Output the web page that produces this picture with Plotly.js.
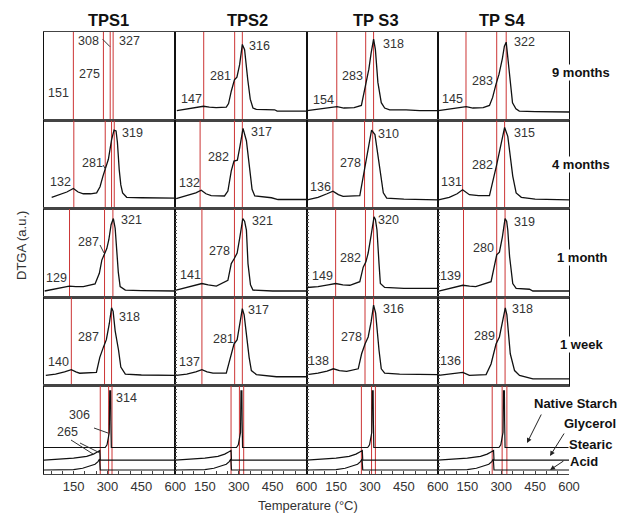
<!DOCTYPE html>
<html><head><meta charset="utf-8">
<script src="https://cdn.plot.ly/plotly-3.0.1.min.js"></script>
<style>html,body{margin:0;padding:0;background:#fff}</style>
</head><body><div id="chart" style="width:621px;height:515px"></div>
<script>
// ---------------- DATA ----------------
const columnTitles = ['TPS1', 'TPS2', 'TP S3', 'TP S4'];
const ageLabels = ['9 months', '4 months', '1 month', '1 week'];
const refNames = ['Native Starch', 'Glycerol', 'Stearic', 'Acid'];
const xTickVals = [50, 100, 150, 200, 250, 300, 350, 400, 450, 500, 550, 600];
const xTickText = ['', '', '150', '', '', '300', '', '', '450', '', '', '600'];

// 9 months (TPS1 curve absent in the reference)
const temp_9m_TPS2 = [26, 80, 120, 144, 170, 200, 245, 255, 267, 281, 292, 304, 316, 326, 340, 351, 363, 378, 459, 470, 600];
const dtga_9m_TPS2 = [0.11, 0.13, 0.145, 0.16, 0.15, 0.145, 0.15, 0.19, 0.33, 0.46, 0.49, 0.63, 0.86, 0.80, 0.46, 0.24, 0.14, 0.125, 0.12, 0.105, 0.105];
const temp_9m_TPS3 = [22, 70, 120, 154, 185, 230, 262, 272, 283, 295, 305, 316, 324, 335, 350, 365, 387, 460, 520, 600];
const dtga_9m_TPS3 = [0.11, 0.125, 0.14, 0.155, 0.14, 0.145, 0.17, 0.30, 0.43, 0.58, 0.76, 0.92, 0.80, 0.43, 0.20, 0.14, 0.12, 0.12, 0.11, 0.11];
const temp_9m_TPS4 = [22, 70, 115, 145, 175, 220, 248, 262, 277, 290, 305, 314, 322, 333, 350, 365, 380, 450, 520, 600];
const dtga_9m_TPS4 = [0.11, 0.125, 0.14, 0.155, 0.14, 0.145, 0.17, 0.26, 0.41, 0.52, 0.70, 0.84, 0.885, 0.61, 0.20, 0.13, 0.105, 0.10, 0.095, 0.095];

// 4 months
const temp_4m_TPS1 = [53, 90, 120, 149, 170, 193, 225, 252, 267, 280, 289, 293, 304, 318, 329, 338, 344, 352, 359, 367, 385, 450, 518, 600];
const dtga_4m_TPS1 = [0.13, 0.16, 0.19, 0.23, 0.19, 0.17, 0.17, 0.18, 0.25, 0.37, 0.44, 0.46, 0.56, 0.78, 0.89, 0.88, 0.75, 0.44, 0.27, 0.18, 0.13, 0.125, 0.12, 0.12];
const temp_4m_TPS2 = [23, 70, 110, 134, 155, 178, 237, 252, 267, 279, 294, 305, 319, 334, 349, 359, 371, 445, 474, 600];
const dtga_4m_TPS2 = [0.115, 0.15, 0.18, 0.21, 0.17, 0.15, 0.145, 0.20, 0.43, 0.54, 0.55, 0.70, 0.91, 0.77, 0.47, 0.22, 0.145, 0.125, 0.105, 0.105];
const temp_4m_TPS3 = [22, 70, 110, 136, 160, 181, 255, 270, 278, 292, 307, 322, 333, 344, 359, 374, 450, 600];
const dtga_4m_TPS3 = [0.10, 0.13, 0.17, 0.20, 0.16, 0.14, 0.15, 0.37, 0.48, 0.66, 0.89, 0.84, 0.66, 0.44, 0.18, 0.12, 0.11, 0.10];
const temp_4m_TPS4 = [22, 70, 105, 129, 159, 200, 248, 270, 280, 295, 315, 329, 340, 351, 366, 389, 450, 600];
const dtga_4m_TPS4 = [0.10, 0.13, 0.17, 0.215, 0.16, 0.15, 0.15, 0.37, 0.50, 0.68, 0.92, 0.82, 0.60, 0.37, 0.18, 0.13, 0.11, 0.10];

// 1 month
const temp_1m_TPS1 = [22, 60, 100, 131, 160, 193, 245, 264, 275, 287, 297, 306, 316, 326, 334, 341, 348, 356, 379, 450, 600];
const dtga_1m_TPS1 = [0.07, 0.09, 0.11, 0.125, 0.12, 0.12, 0.15, 0.27, 0.42, 0.50, 0.55, 0.65, 0.82, 0.89, 0.78, 0.53, 0.28, 0.12, 0.08, 0.075, 0.07];
const temp_1m_TPS2 = [23, 70, 110, 137, 165, 201, 252, 267, 281, 293, 305, 318, 326, 334, 341, 352, 363, 450, 600];
const dtga_1m_TPS2 = [0.08, 0.11, 0.14, 0.155, 0.14, 0.125, 0.19, 0.38, 0.44, 0.50, 0.68, 0.89, 0.86, 0.76, 0.38, 0.14, 0.08, 0.07, 0.07];
const temp_1m_TPS3 = [22, 70, 115, 148, 180, 211, 255, 270, 282, 292, 305, 318, 324, 331, 340, 346, 365, 450, 600];
const dtga_1m_TPS3 = [0.11, 0.12, 0.14, 0.155, 0.14, 0.135, 0.175, 0.34, 0.40, 0.50, 0.70, 0.91, 0.88, 0.76, 0.38, 0.155, 0.11, 0.10, 0.10];
const temp_1m_TPS4 = [23, 70, 105, 130, 160, 187, 255, 270, 280, 292, 305, 317, 324, 329, 337, 351, 366, 425, 440, 600];
const dtga_1m_TPS4 = [0.07, 0.10, 0.12, 0.135, 0.125, 0.12, 0.175, 0.38, 0.48, 0.51, 0.68, 0.89, 0.86, 0.76, 0.46, 0.155, 0.10, 0.09, 0.07, 0.07];

// 1 week
const temp_1w_TPS1 = [27, 70, 110, 140, 160, 177, 251, 266, 282, 295, 308, 318, 325, 334, 349, 359, 379, 450, 600];
const dtga_1w_TPS1 = [0.115, 0.13, 0.155, 0.18, 0.155, 0.14, 0.15, 0.32, 0.435, 0.52, 0.70, 0.88, 0.84, 0.62, 0.40, 0.21, 0.13, 0.12, 0.115];
const temp_1w_TPS2 = [23, 70, 110, 137, 160, 186, 245, 260, 279, 293, 305, 316, 324, 334, 346, 356, 378, 467, 600];
const dtga_1w_TPS2 = [0.115, 0.13, 0.155, 0.18, 0.155, 0.14, 0.14, 0.28, 0.47, 0.52, 0.68, 0.87, 0.80, 0.55, 0.32, 0.17, 0.125, 0.10, 0.10];
const temp_1w_TPS3 = [22, 70, 110, 138, 165, 197, 248, 263, 278, 292, 305, 316, 325, 335, 340, 350, 365, 431, 600];
const dtga_1w_TPS3 = [0.125, 0.14, 0.165, 0.19, 0.17, 0.16, 0.19, 0.36, 0.47, 0.55, 0.72, 0.91, 0.82, 0.51, 0.40, 0.19, 0.14, 0.13, 0.125];
const temp_1w_TPS4 = [22, 70, 105, 130, 159, 233, 255, 270, 277, 292, 306, 318, 325, 334, 340, 359, 381, 440, 600];
const dtga_1w_TPS4 = [0.115, 0.13, 0.14, 0.15, 0.115, 0.125, 0.245, 0.40, 0.47, 0.55, 0.72, 0.88, 0.80, 0.55, 0.36, 0.17, 0.115, 0.076, 0.076];

// reference components (offset traces, same in every column)
const temp_starch = [19, 250, 290, 298, 304, 308, 310, 314, 315, 317, 600];
const dtga_starch = [0.30, 0.30, 0.30, 0.33, 0.40, 0.47, 0.94, 0.94, 0.60, 0.30, 0.30];
const temp_glycerol = [19, 75, 150, 208, 238, 255, 262, 266, 268, 600];
const dtga_glycerol = [0.157, 0.168, 0.18, 0.20, 0.225, 0.25, 0.26, 0.265, 0.157, 0.157];
const temp_stearic = [19, 100, 150, 190, 220, 245, 258, 265, 268, 600];
const dtga_stearic = [0.045, 0.045, 0.05, 0.065, 0.085, 0.11, 0.14, 0.17, 0.045, 0.045];

// peak temperatures written in each panel
const peaks_9m = [[151, 275, 308, 327], [147, 281, 316], [154, 283, 318], [145, 283, 322]];
const peaks_4m = [[132, 281, 319], [132, 282, 317], [136, 278, 310], [131, 282, 315]];
const peaks_1m = [[129, 287, 321], [141, 278, 321], [149, 282, 320], [139, 280, 319]];
const peaks_1w = [[140, 287, 318], [137, 281, 317], [138, 278, 316], [136, 289, 318]];
const peaks_ref = [314, 306, 265];

// red marker lines (temperatures where they are drawn)
const lines_9m = [[149, 282, 312, 325], [145, 282, 316], [153, 281, 316], [144, 280, 322]];
const lines_4m = [[151, 290, 318, 330], [129, 281, 316], [136, 276, 312], [129, 280, 315]];
const lines_1m = [[132, 287, 324], [137, 281, 316], [148, 280, 316], [133, 280, 317]];
const lines_1w = [[140, 287, 318], [137, 282, 316], [138, 278, 316], [133, 280, 317]];
const lines_ref = [[268, 305, 320], [266, 303, 322], [262, 307, 324], [260, 304, 325]];

// ---------------- BUILD ----------------
const temps = [
  [null, temp_9m_TPS2, temp_9m_TPS3, temp_9m_TPS4],
  [temp_4m_TPS1, temp_4m_TPS2, temp_4m_TPS3, temp_4m_TPS4],
  [temp_1m_TPS1, temp_1m_TPS2, temp_1m_TPS3, temp_1m_TPS4],
  [temp_1w_TPS1, temp_1w_TPS2, temp_1w_TPS3, temp_1w_TPS4]];
const dtgas = [
  [null, dtga_9m_TPS2, dtga_9m_TPS3, dtga_9m_TPS4],
  [dtga_4m_TPS1, dtga_4m_TPS2, dtga_4m_TPS3, dtga_4m_TPS4],
  [dtga_1m_TPS1, dtga_1m_TPS2, dtga_1m_TPS3, dtga_1m_TPS4],
  [dtga_1w_TPS1, dtga_1w_TPS2, dtga_1w_TPS3, dtga_1w_TPS4]];
const peaks = [peaks_9m, peaks_4m, peaks_1m, peaks_1w];
const lines = [lines_9m, lines_4m, lines_1m, lines_1w, lines_ref];

const FONT = 'Liberation Sans, Arial, sans-serif';
const RED = '#cc3535';
const L = 44, T0 = 32, W = 525, H = 442;
const PX = x => (x - L) / W;
const PY = y => (T0 + H - y) / H;

const traces = [];
const layout = {
  width: 621, height: 515,
  margin: {l: L, r: 621 - L - W, t: T0, b: 515 - T0 - H, pad: 0},
  paper_bgcolor: '#fff', plot_bgcolor: '#fff',
  showlegend: false,
  font: {family: FONT, color: '#333'},
  annotations: [], shapes: []
};

function ax(k) { return k === 1 ? '' : String(k); }

for (let r = 0; r < 5; r++) {
  for (let c = 0; c < 4; c++) {
    const k = r * 4 + c + 1;
    const xa = 'x' + ax(k), ya = 'y' + ax(k);
    layout['xaxis' + ax(k)] = {
      domain: [c / 4, (c + 1) / 4], range: [19, 600], anchor: ya,
      showgrid: false, zeroline: false, showline: true, mirror: true,
      linecolor: '#444', linewidth: 1.4,
      tickmode: 'array', tickvals: xTickVals, ticktext: xTickText,
      ticks: r === 4 ? 'inside' : '', ticklen: 3, tickcolor: '#444',
      showticklabels: r === 4,
      tickfont: {size: 13, color: '#333', family: FONT},
      fixedrange: true
    };
    layout['yaxis' + ax(k)] = {
      domain: [1 - (r + 1) / 5, 1 - r / 5], range: [0, 1], anchor: xa,
      showgrid: false, zeroline: false, showline: true, mirror: k !== 20,
      linecolor: '#111', linewidth: 1,
      ticks: (r >= 2 && c >= 1) ? 'inside' : '', dtick: 0.04, ticklen: 2, tickcolor: '#555',
      showticklabels: false, fixedrange: true
    };
    // red marker lines
    const lx = [], ly = [];
    lines[r][c].forEach(t => { lx.push(t, t, null); ly.push(0, 1, null); });
    traces.push({x: lx, y: ly, xaxis: xa, yaxis: ya, mode: 'lines',
      line: {color: RED, width: 1}, hoverinfo: 'skip'});
    // curves
    if (r < 4) {
      if (temps[r][c]) {
        traces.push({x: temps[r][c], y: dtgas[r][c], xaxis: xa, yaxis: ya, mode: 'lines',
          line: {color: '#111', width: 1.3}, hoverinfo: 'skip'});
      }
    } else {
      [[temp_starch, dtga_starch], [temp_glycerol, dtga_glycerol], [temp_stearic, dtga_stearic]].forEach(p => {
        traces.push({x: p[0], y: p[1], xaxis: xa, yaxis: ya, mode: 'lines',
          line: {color: '#111', width: 1.2}, hoverinfo: 'skip'});
      });
    }
  }
}

// ---------------- TEXT LAYOUT (pixel positions: left edge, centre y) ----------------
const labelPx = [
  [[[47, 93], [78, 74], [77, 41], [118, 41]], [[180, 99], [209, 76], [248, 46]], [[312, 100], [341, 76], [382, 44]], [[441, 99], [471, 81], [513, 42]]],
  [[[49, 182], [81, 163], [121, 133]], [[178, 183], [207, 157], [250, 132]], [[309, 187], [339, 163], [377, 134]], [[440, 182], [471, 165], [513, 133]]],
  [[[45, 278], [77, 242], [120, 220]], [[179, 275], [208, 251], [251, 221]], [[311, 276], [339, 258], [377, 220]], [[439, 276], [472, 248], [513, 222]]],
  [[[47, 362], [77, 337], [118, 317]], [[178, 362], [212, 339], [247, 310]], [[307, 361], [340, 337], [382, 309]], [[439, 361], [473, 336], [511, 309]]]];
const refLabelPx = [[115, 398], [68, 415], [56, 432]];

function addText(txt, px, py, size, bold, anchor, extra) {
  layout.annotations.push(Object.assign({
    xref: 'paper', yref: 'paper', x: PX(px), y: PY(py),
    xanchor: anchor || 'left', yanchor: 'middle', showarrow: false, borderpad: 0,
    text: bold ? '<b>' + txt + '</b>' : txt,
    font: {family: FONT, size: size, color: bold ? '#111' : '#333'}
  }, extra || {}));
}

for (let r = 0; r < 4; r++)
  for (let c = 0; c < 4; c++)
    peaks[r][c].forEach((v, i) => addText(String(v), labelPx[r][c][i][0], labelPx[r][c][i][1], 12.5));
peaks_ref.forEach((v, i) => addText(String(v), refLabelPx[i][0], refLabelPx[i][1], 12.5));

// column titles
[[108, 20], [247, 20], [376, 20], [502, 20]].forEach((p, i) => addText(columnTitles[i], p[0], p[1], 16.5, true, 'center'));
// row labels (white background interrupts the frame)
[[551, 72], [551, 164], [556, 257], [559, 345]].forEach((p, i) =>
  addText(ageLabels[i], p[0], p[1], 13, true, 'left', {bgcolor: '#fff'}));
// reference names
[[533, 403], [563, 423], [568, 444], [569, 461]].forEach((p, i) =>
  addText(refNames[i], p[0], p[1], 13, true, 'left', {bgcolor: '#fff'}));
// axis titles
addText('DTGA (a.u.)', 22, 246, 13, false, 'center', {textangle: -90});
addText('Temperature (°C)', 308, 505, 13, false, 'center');

// arrows to reference traces
[[527, 443, 15, -30], [550, 456, 15, -24], [550, 470, 15, -10]].forEach(a => {
  layout.annotations.push({xref: 'paper', yref: 'paper', x: PX(a[0]), y: PY(a[1]),
    ax: a[2], ay: a[3], text: '', showarrow: true, arrowhead: 2, arrowsize: 1,
    arrowwidth: 1, arrowcolor: '#222', standoff: 0});
});

// leader strokes
[[102.7, 39.3, 110, 46.7], [100, 245, 104, 253], [103, 165, 105.5, 169],
 [94, 428, 108, 433], [71, 440, 93, 454], [80, 443, 100, 453]].forEach(s => {
  layout.shapes.push({type: 'line', xref: 'paper', yref: 'paper',
    x0: PX(s[0]), y0: PY(s[1]), x1: PX(s[2]), y1: PY(s[3]),
    line: {color: '#333', width: 1}});
});

Plotly.newPlot('chart', traces, layout, {staticPlot: true, displayModeBar: false});
</script>
</body></html>
